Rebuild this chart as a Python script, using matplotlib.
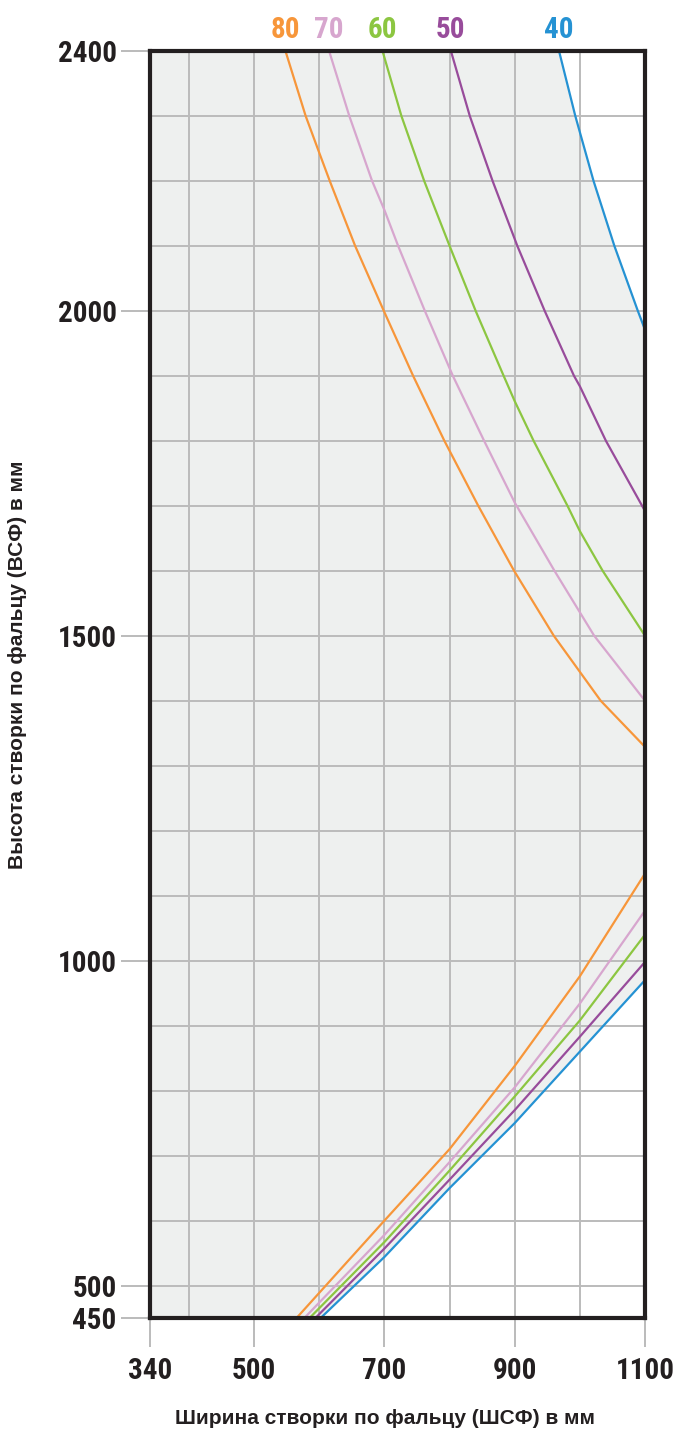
import matplotlib
matplotlib.use("Agg")
import matplotlib.pyplot as plt
from matplotlib import font_manager

# ---------------- data ----------------
weights = ["80", "70", "60", "50", "40"]
colors = ["#F7963A", "#D7A6CE", "#8CC641", "#984C9B", "#2592D3"]

# upper (hyperbolic) limit curves: width x, height y (read at grid crossings)
up80_x = [548, 579, 600, 616, 655, 699, 744, 792, 844, 899, 960, 1032, 1100]
up80_y = [2400, 2300, 2243, 2200, 2100, 2000, 1900, 1800, 1700, 1600, 1500, 1400, 1329]
up70_x = [615, 646, 681, 700, 721, 762, 805, 853, 900, 961, 1022, 1100]
up70_y = [2400, 2300, 2200, 2155, 2100, 2000, 1900, 1800, 1705, 1600, 1500, 1400]
up60_x = [697, 726, 761, 800, 840, 883, 900, 929, 981, 1000, 1035, 1100]
up60_y = [2400, 2300, 2200, 2100, 2000, 1900, 1861, 1800, 1700, 1661, 1600, 1500]
up50_x = [802, 831, 866, 904, 946, 991, 1000, 1040, 1100]
up50_y = [2400, 2300, 2200, 2100, 2000, 1900, 1884, 1800, 1692]
up40_x = [968, 993, 1021, 1053, 1089, 1100]
up40_y = [2400, 2300, 2200, 2100, 2000, 1971]

# lower limit curves
lo80_x = [565, 700, 800, 900, 1000, 1100]
lo80_y = [450, 600, 710, 838, 976, 1134]
lo70_x = [577, 700, 800, 900, 1000, 1100]
lo70_y = [450, 578, 690, 805, 934, 1077]
lo60_x = [585, 700, 800, 900, 1000, 1100]
lo60_y = [450, 567, 677, 791, 908, 1040]
lo50_x = [594, 700, 800, 900, 1000, 1100]
lo50_y = [450, 557, 663, 770, 883, 998]
lo40_x = [602, 700, 800, 900, 1000, 1100]
lo40_y = [450, 544, 650, 750, 860, 970]

x_ticks = [340, 500, 700, 900, 1100]
x_grid = [400, 500, 600, 700, 800, 900, 1000]
y_ticks = [450, 500, 1000, 1500, 2000, 2400]
y_grid = list(range(500, 2400, 100))

xlabel = "Ширина створки по фальцу (ШСФ) в мм"
ylabel = "Высота створки по фальцу (ВСФ) в мм"

upper = [(up80_x, up80_y), (up70_x, up70_y), (up60_x, up60_y), (up50_x, up50_y), (up40_x, up40_y)]
lower = [(lo80_x, lo80_y), (lo70_x, lo70_y), (lo60_x, lo60_y), (lo50_x, lo50_y), (lo40_x, lo40_y)]

# ---------------- fonts ----------------
def has_font(name):
    try:
        font_manager.findfont(font_manager.FontProperties(family=name), fallback_to_default=False)
        return True
    except Exception:
        return False

narrow = None
for cand in ["Liberation Sans Narrow", "Roboto Condensed", "Open Sans Condensed", "DejaVu Sans"]:
    if has_font(cand):
        narrow = cand
        break
NUMFONT = dict(family=narrow, weight="bold", stretch="condensed")

plt.rcParams["font.family"] = ["Liberation Sans", "DejaVu Sans"]

INK = "#231F20"
GRID = "#BBBBBB"

fig = plt.figure(figsize=(6.82, 14.30), dpi=100)
W, H = 682, 1430
ax = fig.add_axes([150 / W, 1 - 1318 / H, 495 / W, 1267 / H])
ax.set_xlim(340, 1100)
ax.set_ylim(450, 2400)

# shaded allowed region (bounded by the 40 kg curves)
poly_x = [340] + lo40_x + up40_x[::-1] + [340]
poly_y = [450] + lo40_y + up40_y[::-1] + [2400]
ax.fill(poly_x, poly_y, color="#EEF0EF", zorder=0, lw=0)

# grid
ax.set_xticks(x_ticks)
ax.set_xticks(x_grid, minor=True)
ax.set_yticks(y_ticks)
ax.set_yticks(y_grid, minor=True)
ax.grid(which="both", color=GRID, lw=1.4, zorder=1)
ax.set_axisbelow(True)
ax.tick_params(which="major", length=21, width=1.4, color=GRID, direction="out", pad=3)
ax.tick_params(which="minor", length=0)
ax.tick_params(axis="x", pad=7)
for lab in ax.get_xticklabels() + ax.get_yticklabels():
    lab.set_fontfamily(narrow)
    lab.set_fontweight("bold")
    lab.set_fontstretch("condensed")
    lab.set_fontsize(21)
    lab.set_color(INK)

for (ux, uy), (lx, ly), c, w in zip(upper, lower, colors, weights):
    ax.plot(ux, uy, color=c, lw=1.6, zorder=3, solid_joinstyle="round")
    ax.plot(lx, ly, color=c, lw=1.6, zorder=3, solid_joinstyle="round")
    ax.annotate(w, xy=(ux[0], 2400), xycoords="data", xytext=(0, 5),
                textcoords="offset points", ha="center", va="bottom",
                color=c, fontsize=21, annotation_clip=False, **NUMFONT)

for s in ax.spines.values():
    s.set_linewidth(3)
    s.set_color(INK)
    s.set_zorder(5)

fig.text(385 / W, 1 - 1418 / H, xlabel, ha="center", va="center",
         fontsize=15, fontweight="bold", color=INK)
fig.text(18 / W, 1 - 665 / H, ylabel, ha="center", va="center", rotation=90,
         fontsize=15, fontweight="bold", color=INK)

fig.savefig("out.png", dpi=100, facecolor="white")
